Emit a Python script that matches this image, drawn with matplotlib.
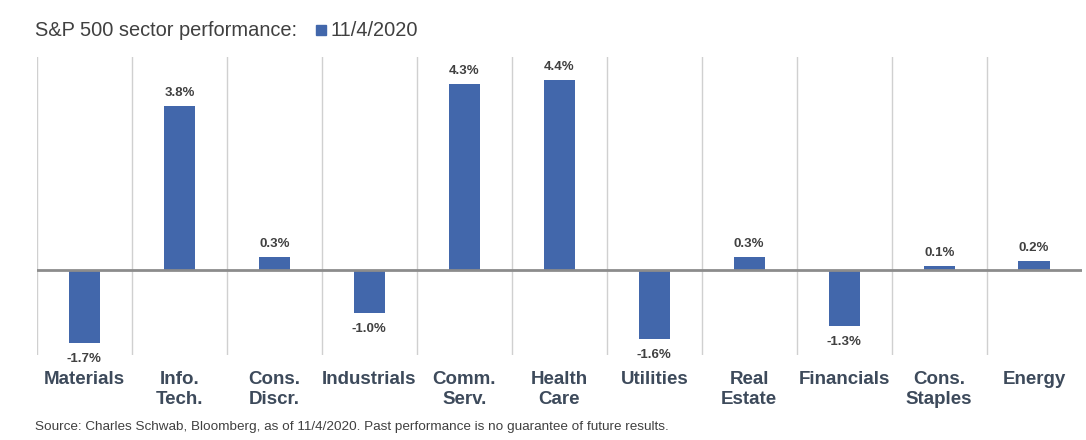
import matplotlib.pyplot as plt
from matplotlib.patches import Rectangle
import matplotlib.transforms as mtrans

# sector performance on 11/4/2020 (%)
sectors = ["Materials", "Info.\nTech.", "Cons.\nDiscr.", "Industrials", "Comm.\nServ.",
           "Health\nCare", "Utilities", "Real\nEstate", "Financials", "Cons.\nStaples", "Energy"]
values = [-1.7, 3.8, 0.3, -1.0, 4.3, 4.4, -1.6, 0.3, -1.3, 0.1, 0.2]
labels = ["-1.7%", "3.8%", "0.3%", "-1.0%", "4.3%", "4.4%", "-1.6%", "0.3%", "-1.3%", "0.1%", "0.2%"]

BLUE = "#4267AB"
TXT = "#3D4A5B"
GRAY = "#404040"

plt.rcParams['font.family'] = ['Liberation Sans', 'DejaVu Sans']

fig = plt.figure(figsize=(10.86, 4.4), dpi=100)
ax = fig.add_axes([0.034, 0.193, 0.962, 0.677])

x = list(range(len(values)))
ax.bar(x, values, width=0.33, color=BLUE, zorder=2)
ax.set_xlim(-0.5, len(values) - 0.5)
ax.set_ylim(-1.97, 4.93)

# light separators between sectors
for i in range(len(values)):
    ax.axvline(i - 0.5, color="#d0d0d0", linewidth=1, zorder=1)
ax.axhline(0, color="#8c8c8c", linewidth=2, zorder=3)

for s in ax.spines.values():
    s.set_visible(False)
ax.set_xticks([])
ax.set_yticks([])

# value labels
for xi, v, lab in zip(x, values, labels):
    if v >= 0:
        ax.annotate(lab, (xi, v), xytext=(0, 5), textcoords="offset points",
                    ha="center", va="bottom", fontsize=9.5, fontweight="bold", color=GRAY)
    else:
        ax.annotate(lab, (xi, v), xytext=(0, -7), textcoords="offset points",
                    ha="center", va="top", fontsize=9.5, fontweight="bold", color=GRAY)

# category labels below the plot
trans = mtrans.blended_transform_factory(ax.transData, fig.transFigure)
for xi, name in zip(x, sectors):
    ax.text(xi, 1 - 371 / 440, name, transform=trans, ha="center", va="top",
            fontsize=13.5, fontweight="bold", color=TXT, linespacing=1.25)

# title with legend marker
fig.text(35 / 1086, 1 - 30 / 440, "S&P 500 sector performance:", ha="left", va="center",
         fontsize=14.4, color=GRAY)
fig.patches.append(Rectangle((316 / 1086, 1 - 35 / 440), 10 / 1086, 10 / 440,
                             transform=fig.transFigure, color=BLUE, figure=fig))
fig.text(330 / 1086, 1 - 30 / 440, "11/4/2020", ha="left", va="center",
         fontsize=14.4, color=GRAY)

fig.text(35 / 1086, 1 - 427 / 440,
         "Source: Charles Schwab, Bloomberg, as of 11/4/2020. Past performance is no guarantee of future results.",
         ha="left", va="center", fontsize=9.7, color=GRAY)

fig.savefig("out.png", dpi=100, facecolor="white")
